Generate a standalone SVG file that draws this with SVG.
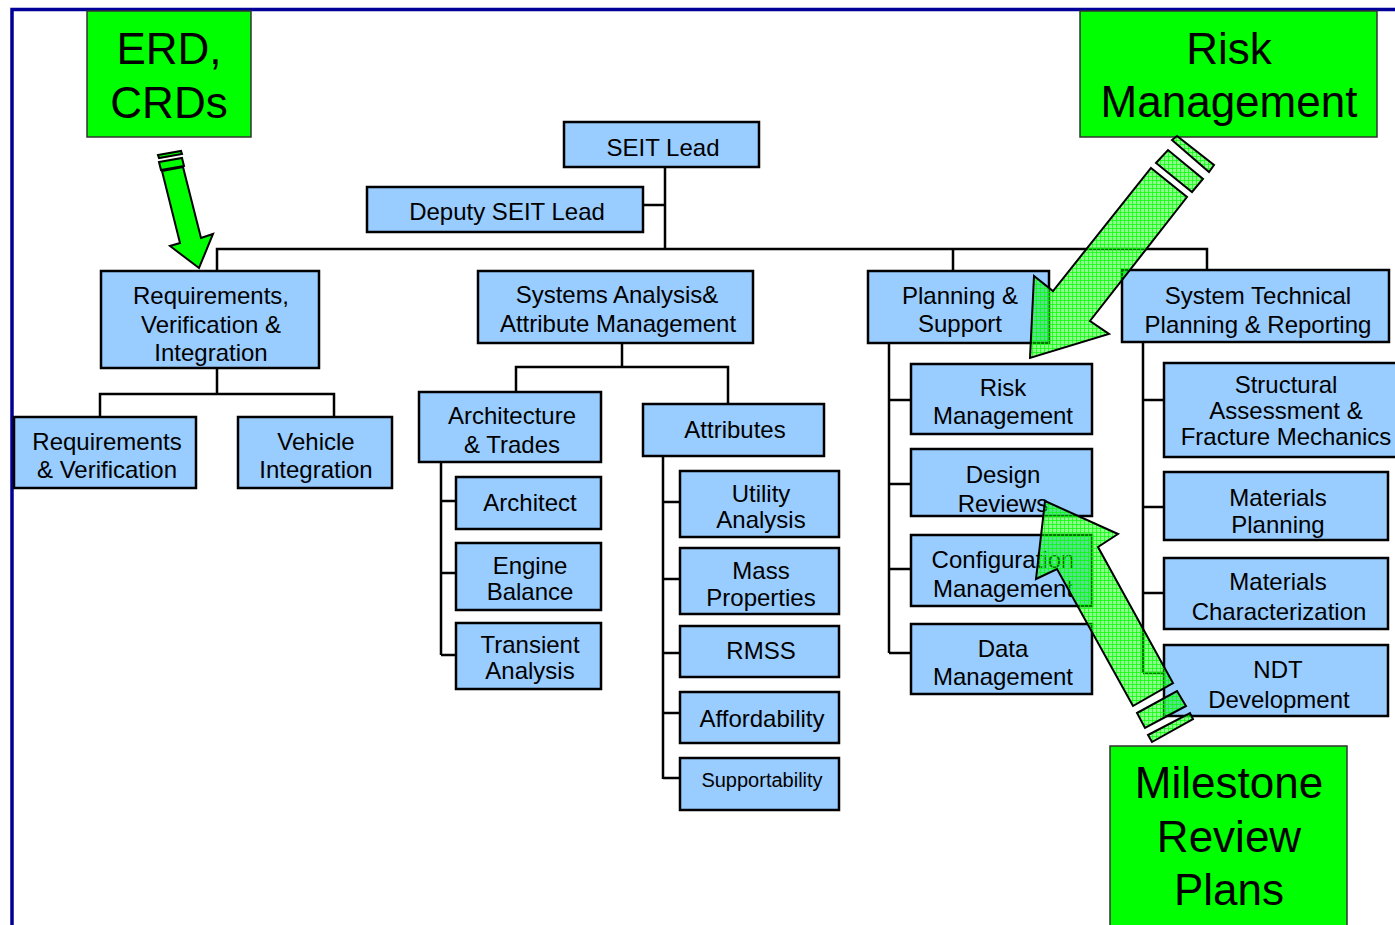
<svg xmlns="http://www.w3.org/2000/svg" width="1395" height="925" viewBox="0 0 1395 925">
<defs>
<style>
.n rect{fill:#99ccff;stroke:#000;stroke-width:2.5}
.n text{font-family:"Liberation Sans",Arial,sans-serif;font-size:24px;fill:#000;text-anchor:middle}
.g rect{fill:#00ff00;stroke:#333;stroke-width:1.5}
.g text{font-family:"Liberation Sans",Arial,sans-serif;font-size:44px;fill:#000;text-anchor:middle}
#connectors path{fill:none;stroke:#000;stroke-width:2.5}
.arrow{stroke:#000;stroke-width:2;stroke-linejoin:miter}
.hatched{fill:url(#hatch)}
</style>
<pattern id="hatch" width="4" height="4" patternUnits="userSpaceOnUse">
<rect width="4" height="4" fill="#00ff00" fill-opacity="0.45"/>
<path d="M0 0.5H4M0.5 0V4" stroke="#00ff00" stroke-width="1" stroke-opacity="0.7"/>
</pattern>
</defs>
<rect width="1395" height="925" fill="#fff"/>
<path d="M12 925V9.5H1395" fill="none" stroke="#000099" stroke-width="3.5"/>

<g id="connectors">
<path d="M665 167V249M643 205H665"/>
<path d="M217 271V249H1207V271M953 249V271"/>
<path d="M217 368V394M100 417V394H334V417"/>
<path d="M622 343V367M516 392V367H728V404"/>
<path d="M441 462V655M441 501H456M441 573H456M441 655H456"/>
<path d="M663 456V779M663 502H680M663 579H680M663 653H680M663 713H680M663 778H680"/>
<path d="M889 343V653M889 400H911M889 484H911M889 569H911M889 653H911"/>
<path d="M1143 342V673M1143 400H1164M1143 507H1164M1143 593H1164M1143 673H1164"/>
</g>

<g id="erd" class="g"><rect x="87" y="11" width="164" height="126"/><text x="169" y="64">ERD,</text><text x="169" y="118">CRDs</text></g>
<g id="riskTop" class="g"><rect x="1080" y="11" width="297" height="126"/><text x="1229" y="64">Risk</text><text x="1229" y="117">Management</text></g>
<g id="milestone" class="g"><rect x="1110" y="746" width="237" height="185"/><text x="1229" y="798">Milestone</text><text x="1229" y="852">Review</text><text x="1229" y="905">Plans</text></g>

<g id="seitLead" class="n"><rect x="564" y="122" width="195" height="45"/><text x="663" y="156">SEIT Lead</text></g>
<g id="deputy" class="n"><rect x="367" y="187" width="276" height="45"/><text x="507" y="220">Deputy SEIT Lead</text></g>

<g id="rvi" class="n"><rect x="101" y="271" width="218" height="97"/><text x="211" y="304">Requirements,</text><text x="211" y="333">Verification &amp;</text><text x="211" y="361">Integration</text></g>
<g id="reqver" class="n"><rect x="14" y="417" width="182" height="71"/><text x="107" y="450">Requirements</text><text x="107" y="478">&amp; Verification</text></g>
<g id="vehint" class="n"><rect x="238" y="417" width="154" height="71"/><text x="316" y="450">Vehicle</text><text x="316" y="478">Integration</text></g>

<g id="sysana" class="n"><rect x="478" y="271" width="275" height="72"/><text x="617" y="303">Systems Analysis&amp;</text><text x="618" y="332">Attribute Management</text></g>
<g id="archtrades" class="n"><rect x="419" y="392" width="182" height="70"/><text x="512" y="424">Architecture</text><text x="512" y="453">&amp; Trades</text></g>
<g id="architect" class="n"><rect x="456" y="477" width="145" height="52"/><text x="530" y="511">Architect</text></g>
<g id="engine" class="n"><rect x="456" y="543" width="145" height="67"/><text x="530" y="574">Engine</text><text x="530" y="600">Balance</text></g>
<g id="transient" class="n"><rect x="456" y="623" width="145" height="66"/><text x="530" y="653">Transient</text><text x="530" y="679">Analysis</text></g>

<g id="attributes" class="n"><rect x="643" y="404" width="181" height="52"/><text x="735" y="438">Attributes</text></g>
<g id="utility" class="n"><rect x="680" y="471" width="159" height="66"/><text x="761" y="502">Utility</text><text x="761" y="528">Analysis</text></g>
<g id="mass" class="n"><rect x="680" y="548" width="159" height="66"/><text x="761" y="579">Mass</text><text x="761" y="606">Properties</text></g>
<g id="rmss" class="n"><rect x="680" y="626" width="159" height="51"/><text x="761" y="659">RMSS</text></g>
<g id="afford" class="n"><rect x="680" y="692" width="159" height="51"/><text x="762" y="727">Affordability</text></g>
<g id="support" class="n"><rect x="680" y="758" width="159" height="52"/><text x="762" y="787" style="font-size:20px">Supportability</text></g>

<g id="planning" class="n"><rect x="868" y="271" width="181" height="72"/><text x="960" y="304">Planning &amp;</text><text x="960" y="332">Support</text></g>
<g id="riskmgmt" class="n"><rect x="911" y="364" width="181" height="70"/><text x="1003" y="396">Risk</text><text x="1003" y="424">Management</text></g>
<g id="design" class="n"><rect x="911" y="449" width="181" height="67"/><text x="1003" y="483">Design</text><text x="1003" y="512">Reviews</text></g>
<g id="config" class="n"><rect x="911" y="535" width="181" height="71"/><text x="1003" y="568">Configuration</text><text x="1003" y="597">Management</text></g>
<g id="data" class="n"><rect x="911" y="624" width="181" height="70"/><text x="1003" y="657">Data</text><text x="1003" y="685">Management</text></g>

<g id="stpr" class="n"><rect x="1122" y="270" width="267" height="72"/><text x="1258" y="304">System Technical</text><text x="1258" y="333">Planning &amp; Reporting</text></g>
<g id="structural" class="n"><rect x="1164" y="363" width="240" height="94"/><text x="1286" y="393">Structural</text><text x="1286" y="419">Assessment &amp;</text><text x="1286" y="445">Fracture Mechanics</text></g>
<g id="matplan" class="n"><rect x="1164" y="472" width="224" height="68"/><text x="1278" y="506">Materials</text><text x="1278" y="533">Planning</text></g>
<g id="matchar" class="n"><rect x="1164" y="558" width="224" height="71"/><text x="1278" y="590">Materials</text><text x="1279" y="620">Characterization</text></g>
<g id="ndt" class="n"><rect x="1164" y="645" width="224" height="71"/><text x="1278" y="678">NDT</text><text x="1279" y="708">Development</text></g>

<g id="arrowErd" class="arrow" fill="#00ff00">
<polygon points="162,171 183,167 201,238 213,234 199,268 170,246 180,243"/>
<polygon points="159,162 182,158 184,166 161,170"/>
<polygon points="158,155 181,151 182,154 159,158"/>
</g>
<g id="arrowRisk" class="arrow hatched">
<polygon points="1151,168 1187,197 1090,321 1109,334 1030,358 1034,276 1053,291"/>
<polygon points="1156,163 1168,150 1203,179 1192,192"/>
<polygon points="1172,140 1177,136 1214,165 1209,172"/>
</g>
<g id="arrowMilestone" class="arrow hatched">
<polygon points="1133,706 1173,683 1098,547 1118,534 1045,501 1036,579 1057,569"/>
<polygon points="1137,713 1177,691 1186,706 1145,728"/>
<polygon points="1148,735 1190,713 1193,719 1152,742"/>
</g>
</svg>
